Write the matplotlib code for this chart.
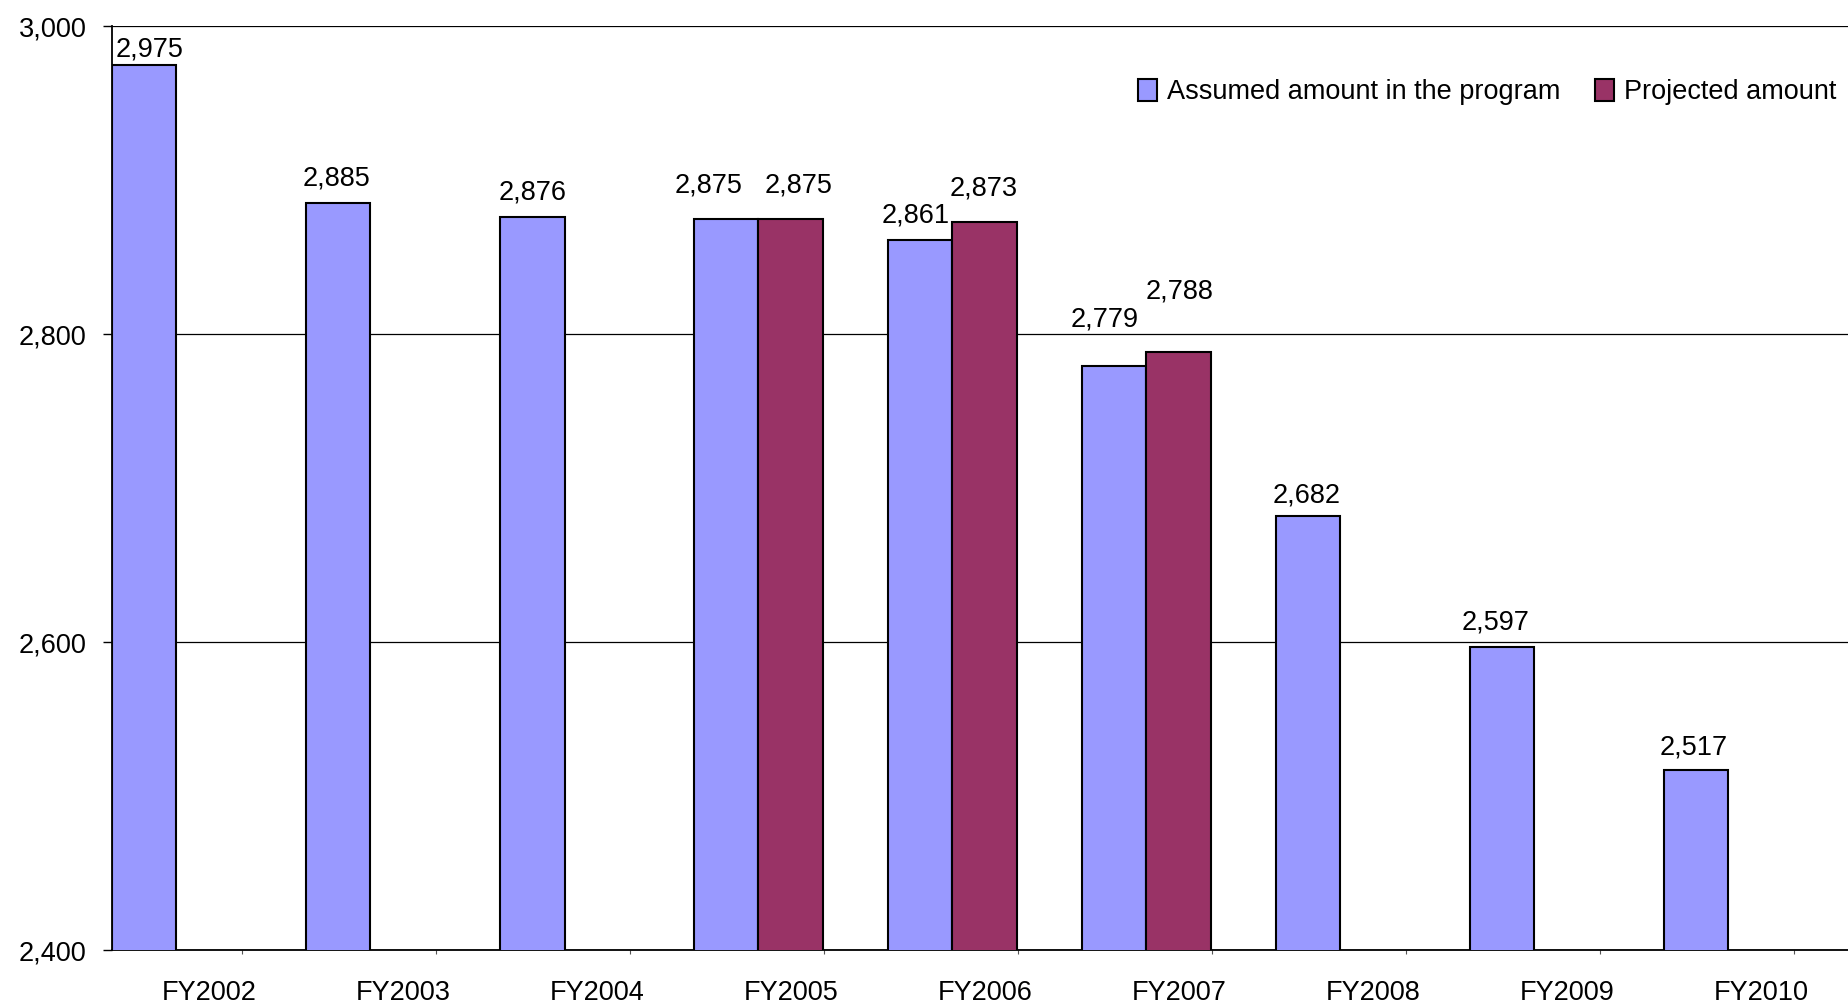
import numpy as np
import matplotlib
matplotlib.use("Agg")
from matplotlib import pyplot as plt

# values
years = ["FY2002", "FY2003", "FY2004", "FY2005", "FY2006", "FY2007", "FY2008", "FY2009", "FY2010"]
assumed = [2975, 2885, 2876, 2875, 2861, 2779, 2682, 2597, 2517]
projected = [np.nan, np.nan, np.nan, 2875, 2873, 2788, np.nan, np.nan, np.nan]

# hand-nudged label placement (dx, gap above bar, in pixels) as in the original
assumed_nudge = [(5.5, 8), (-1.5, 18), (0, 17), (-17.5, 26), (-5, 18),
                 (-10, 40), (-2, 13), (-6.5, 17), (-3, 15)]
projected_nudge = [None, None, None, (8, 26), (-1, 26), (1, 54), None, None, None]

blue = "#9999FF"
plum = "#993366"
fs = 19.5

plt.rcParams["font.family"] = ["Liberation Sans", "DejaVu Sans"]
plt.rcParams["font.size"] = fs

fig = plt.figure(figsize=(18.49, 10.08), dpi=100)
ax = fig.add_axes([112 / 1849, 58 / 1008, 1737 / 1849, 924 / 1008])

x = np.arange(len(years))
w = 64.5 / 194  # bar width in category units

# bars sit at the left side of each category, like the original
b1 = ax.bar(x, assumed, width=w, align="edge", color=blue, edgecolor="black",
            linewidth=1.5, label="Assumed amount in the program", zorder=3)
b2 = ax.bar(x + w, projected, width=w, align="edge", color=plum, edgecolor="black",
            linewidth=1.5, label="Projected amount", zorder=3)

# value labels above each bar
for bars, vals, nudges in [(b1, assumed, assumed_nudge), (b2, projected, projected_nudge)]:
    for rect, v, nd in zip(bars, vals, nudges):
        if np.isnan(v):
            continue
        ax.annotate(f"{int(v):,}", (rect.get_x() + rect.get_width() / 2, v),
                    xytext=nd, textcoords="offset pixels",
                    ha="center", va="baseline", fontsize=fs, zorder=4)

ax.set_ylim(2400, 3000)
ax.set_xlim(0, 1737 / 194)
ax.set_yticks([2400, 2600, 2800, 3000])
ax.set_yticklabels([f"{t:,}" for t in [2400, 2600, 2800, 3000]])
ax.yaxis.grid(True, color="black", linewidth=0.9, zorder=0)
ax.tick_params(axis="y", length=6.5, width=1, pad=12, labelsize=fs)

# category labels in the middle, small tick marks between groups
ax.set_xticks(x + 0.5)
ax.set_xticklabels(years)
ax.tick_params(axis="x", which="major", length=0, pad=21.5, labelsize=fs)
ax.set_xticks(x + 130 / 194, minor=True)
ax.tick_params(axis="x", which="minor", length=3, width=0.8, color="#555555")

for side in ["right", "top"]:
    ax.spines[side].set_visible(False)
ax.spines["left"].set_linewidth(1.3)
ax.spines["bottom"].set_linewidth(1.3)

fig.legend(loc="center right", bbox_to_anchor=(1836 / 1849, 1 - 92 / 1008),
           ncol=2, frameon=False, handlelength=0.7, handleheight=0.9,
           handletextpad=0.35, columnspacing=1.3, borderpad=0, borderaxespad=0,
           fontsize=fs)

fig.savefig("out.png", dpi=100)
